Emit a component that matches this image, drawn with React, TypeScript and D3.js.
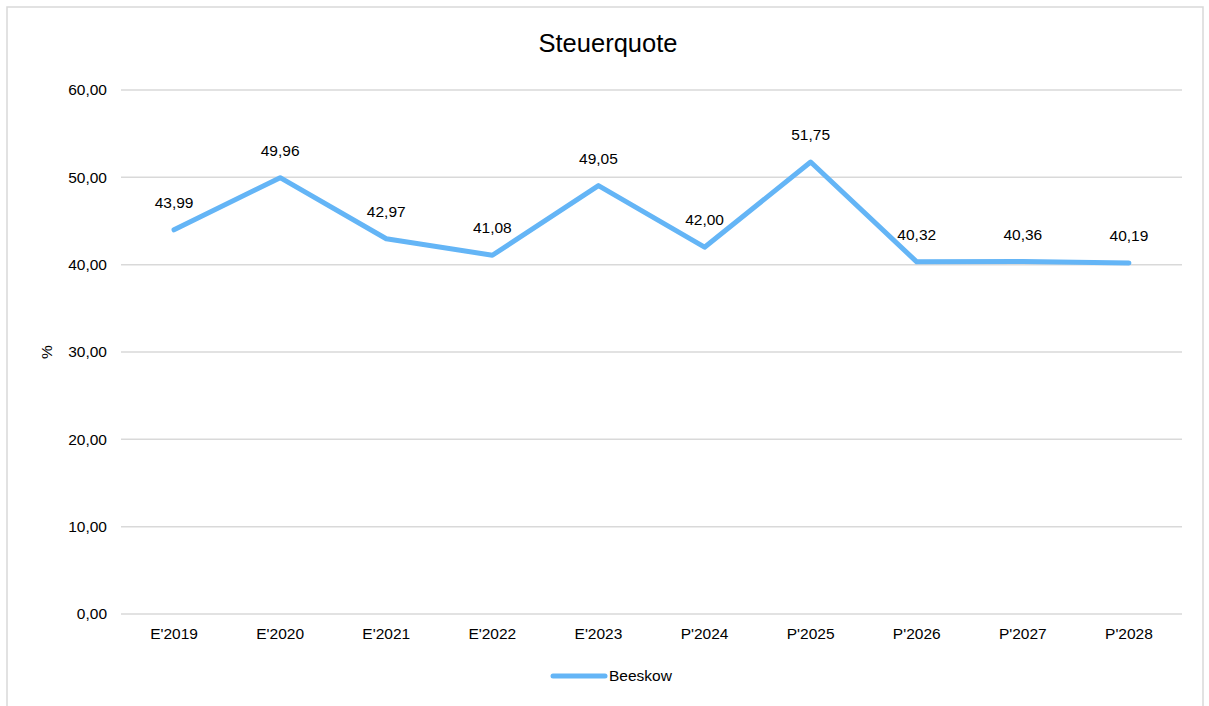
import * as d3 from "d3";

const categories = ["E'2019", "E'2020", "E'2021", "E'2022", "E'2023", "P'2024", "P'2025", "P'2026", "P'2027", "P'2028"];
const values = [43.99, 49.96, 42.97, 41.08, 49.05, 42.0, 51.75, 40.32, 40.36, 40.19];
const yTicks = [0, 10, 20, 30, 40, 50, 60];
const seriesName = "Beeskow";

export default function App() {
  const width = 1209;
  const height = 706;
  const marginLeft = 121;
  const marginRight = 27;
  const marginTop = 90;
  const plotBottom = 614;
  const lineColor = "#64b5f6";
  const font = "'Liberation Sans', Arial, sans-serif";
  const fs = 15.5;

  const fmt = (v: number) => v.toFixed(2).replace(".", ",");

  const x = d3
    .scaleBand()
    .domain(categories)
    .range([marginLeft, width - marginRight]);

  const y = d3.scaleLinear().domain([0, 60]).range([plotBottom, marginTop]);

  const line = d3
    .line<number>()
    .x((d, i) => x(categories[i])! + x.bandwidth() / 2)
    .y((d) => y(d));

  return (
    <svg
      width={width}
      height={height}
      style={{ position: "absolute", left: 0, top: 0, fontFamily: font }}
    >
      <rect x={0} y={0} width={width} height={height} fill="#fff" />
      {/* chart border */}
      <rect x={7} y={7} width={1196} height={720} fill="none" stroke="#d9d9d9" strokeWidth={1.5} />

      <text x={608} y={52} textAnchor="middle" fontSize={25.5} fill="#000">
        Steuerquote
      </text>

      {/* grid + y labels */}
      {yTicks.map((t) => (
        <g key={t}>
          <line
            x1={marginLeft}
            x2={width - marginRight}
            y1={y(t)}
            y2={y(t)}
            stroke="#d9d9d9"
            strokeWidth={1.5}
          />
          <text x={107} y={y(t)} dy="0.35em" textAnchor="end" fontSize={fs} fill="#000">
            {fmt(t)}
          </text>
        </g>
      ))}

      <text
        transform={`translate(52, ${(marginTop + plotBottom) / 2}) rotate(-90)`}
        textAnchor="middle"
        fontSize={fs}
        fill="#000"
      >
        %
      </text>

      {/* x labels */}
      {categories.map((c) => (
        <text
          key={c}
          x={x(c)! + x.bandwidth() / 2}
          y={639}
          textAnchor="middle"
          fontSize={fs}
          fill="#000"
        >
          {c}
        </text>
      ))}

      <path
        d={line(values) ?? ""}
        fill="none"
        stroke={lineColor}
        strokeWidth={5}
        strokeLinejoin="round"
        strokeLinecap="round"
      />

      {/* data labels */}
      {values.map((v, i) => (
        <text
          key={i}
          x={x(categories[i])! + x.bandwidth() / 2}
          y={y(v) - 22}
          textAnchor="middle"
          fontSize={fs}
          fill="#000"
        >
          {fmt(v)}
        </text>
      ))}

      {/* legend */}
      <line x1={553} x2={605} y1={676} y2={676} stroke={lineColor} strokeWidth={5} strokeLinecap="round" />
      <text x={609} y={676} dy="0.35em" fontSize={fs} fill="#000">
        {seriesName}
      </text>
    </svg>
  );
}
